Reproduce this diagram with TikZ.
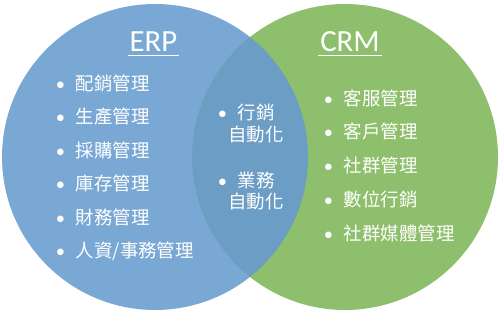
\documentclass[tikz,border=0pt]{standalone}
\usepackage{fontspec}
\setmainfont{Carlito}
\newfontfamily\cjk{Noto Sans CJK TC}
\definecolor{ERPBlue}{HTML}{7AA8D4}
\definecolor{CRMGreen}{HTML}{8EBF6C}
\definecolor{MidBlue}{HTML}{6C9DC4}
\usetikzlibrary{positioning}

\begin{document}
\begin{tikzpicture}[x=0.02cm, y=0.02cm,
    title/.style={anchor=base, text=white, inner sep=0pt,
      font=\fontsize{17.5}{20}\selectfont},
    listitem/.style={anchor=west, text=white, inner sep=0pt,
      font=\cjk\fontsize{10.5}{12}\selectfont},
    underl/.style={white, line width=0.6pt}]
  \useasboundingbox (0,0) rectangle (500,314);
  % the two sets and their overlap
  \fill[ERPBlue] (155,157) circle[radius=3.06cm];
  \fill[CRMGreen] (345,157) circle[radius=3.06cm];
  \begin{scope}
    \clip (155,157) circle[radius=3.06cm];
    \fill[MidBlue] (345,157) circle[radius=3.06cm];
  \end{scope}
  % titles
  \node[title] (erp) at (153.5,262) {ERP};
  \node[title] (crm) at (350,262) {CRM};
  \draw[underl] ([xshift=-1pt, yshift=-2pt]erp.base west) -- ([xshift=1pt, yshift=-2pt]erp.base east);
  \draw[underl] ([xshift=-1pt, yshift=-2pt]crm.base west) -- ([xshift=1pt, yshift=-2pt]crm.base east);
  % ERP items
  \foreach \t [count=\i] in {配銷管理, 生產管理, 採購管理, 庫存管理, 財務管理, 人資/事務管理}
    \node[listitem] (erp\i) at (55.5, 314-83-33.6*\i+33.6) {{\rmfamily\textbullet}\hspace{6.2pt}\t};
  % CRM items
  \foreach \t [count=\i] in {客服管理, 客戶管理, 社群管理, 數位行銷, 社群媒體管理}
    \node[listitem] (crm\i) at (323.5, 314-98-33.8*\i+33.8) {{\rmfamily\textbullet}\hspace{6.2pt}\t};
  % shared items
  \node[listitem] (mkt) at (217.5,201) {{\rmfamily\textbullet}\hspace{6.2pt}行銷};
  \node[listitem] (mkt2) at (228,179) {自動化};
  \node[listitem] (sales) at (217.5,134) {{\rmfamily\textbullet}\hspace{6.2pt}業務};
  \node[listitem] (sales2) at (228,112) {自動化};
\end{tikzpicture}
\end{document}
